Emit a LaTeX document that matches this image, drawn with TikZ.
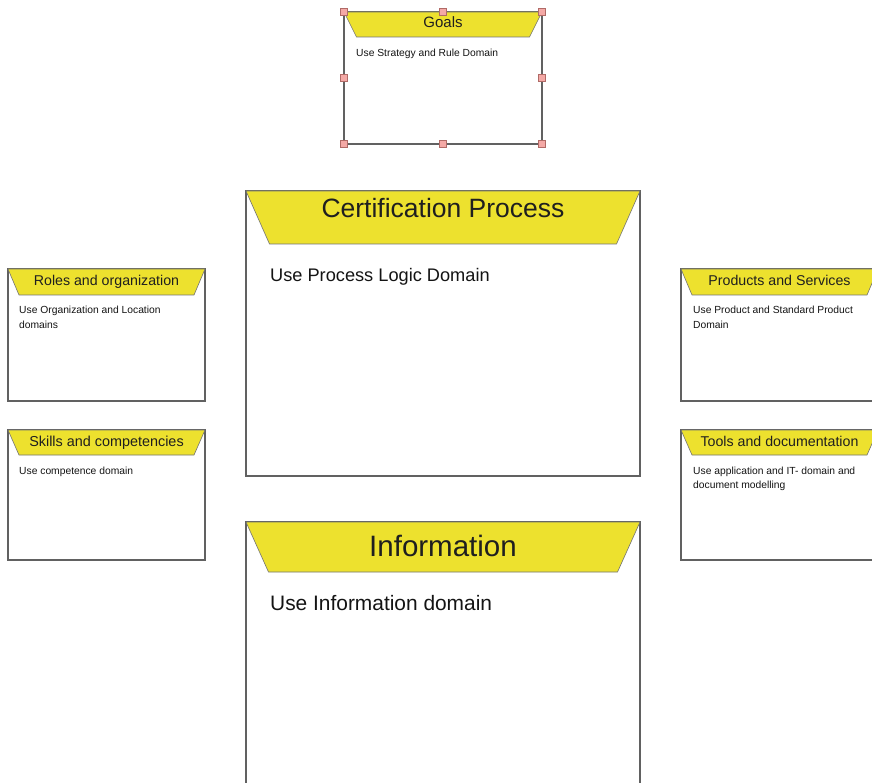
\documentclass[tikz,border=0pt]{standalone}
\usepackage{fontspec}
\setmainfont{Liberation Sans}
\begin{document}
\begin{tikzpicture}[x=1pt,y=-1pt,
  panel/.style={draw=black!62, line width=1.3pt, fill=white},
  header/.style={draw=black!55, line width=0.6pt, fill=headyellow},
  handle/.style={draw=handleedge, line width=0.7pt, fill=handlefill, minimum size=6.5pt, inner sep=0pt},
  ttl/.style={anchor=base, inner sep=0pt, text=black!88},
  body/.style={anchor=base west, inner sep=0pt, text=black!92, font=\fontsize{10.3}{14}\selectfont}]
\definecolor{headyellow}{HTML}{EDE12E}
\definecolor{handlefill}{HTML}{F4A9A6}
\definecolor{handleedge}{HTML}{B06A66}

\useasboundingbox (0,0) rectangle (872,783);
\clip (0,0) rectangle (872,783);
\fill[white] (0,0) rectangle (872,783);

% panel: #1 left, #2 top, #3 width, #4 height, #5 header height, #6 header inset
\newcommand{\drawpanel}[6]{%
  \draw[panel] (#1,#2) rectangle ({#1+#3},{#2+#4});
  \draw[header] (#1,#2) -- ({#1+#3},#2) -- ({#1+#3-#6},{#2+#5}) -- ({#1+#6},{#2+#5}) -- cycle;
}

% Goals (selected, with handles)
\drawpanel{344}{12}{198}{132}{25}{12.5}
\node[ttl, font=\fontsize{15}{18}\selectfont] (goalsT) at (443,28) {Goals};
\node[body] (goalsB) at (356,57) {Use Strategy and Rule Domain};
\foreach \hx/\hy [count=\i] in {344/12,443/12,542/12,344/78,542/78,344/144,443/144,542/144}
  \node[handle] (h\i) at (\hx,\hy) {};

% Certification Process
\drawpanel{246}{191}{394}{285}{53}{23.5}
\node[ttl, font=\fontsize{26.5}{30}\selectfont] (certT) at (443,218) {Certification Process};
\node[body, font=\fontsize{18.2}{22}\selectfont] (certB) at (270,282) {Use Process Logic Domain};

% Information
\drawpanel{246}{522}{394}{300}{50}{22.5}
\node[ttl, font=\fontsize{29.5}{33}\selectfont] (infoT) at (443,556) {Information};
\node[body, font=\fontsize{20.9}{25}\selectfont] (infoB) at (270,610) {Use Information domain};

% Roles and organization
\drawpanel{8}{269}{197}{132}{26}{11}
\node[ttl, font=\fontsize{14.2}{17}\selectfont] (rolesT) at (106.5,286) {Roles and organization};
\node[body] (rolesB1) at (19,314) {Use Organization and Location};
\node[body] (rolesB2) at (19,328) {domains};

% Skills and competencies
\drawpanel{8}{430}{197}{130}{25}{11}
\node[ttl, font=\fontsize{14.4}{17}\selectfont] (skillsT) at (106.5,446) {Skills and competencies};
\node[body] (skillsB) at (19,474) {Use competence domain};

% Products and Services
\drawpanel{681}{269}{197}{132}{26}{11}
\node[ttl, font=\fontsize{14.2}{17}\selectfont] (prodT) at (779.5,286) {Products and Services};
\node[body] (prodB1) at (693,314) {Use Product and Standard Product};
\node[body] (prodB2) at (693,328) {Domain};

% Tools and documentation
\drawpanel{681}{430}{197}{130}{25}{11}
\node[ttl, font=\fontsize{14.2}{17}\selectfont] (toolsT) at (779.5,446) {Tools and documentation};
\node[body] (toolsB1) at (693,474) {Use application and IT- domain and};
\node[body] (toolsB2) at (693,488) {document modelling};
\end{tikzpicture}
\end{document}
